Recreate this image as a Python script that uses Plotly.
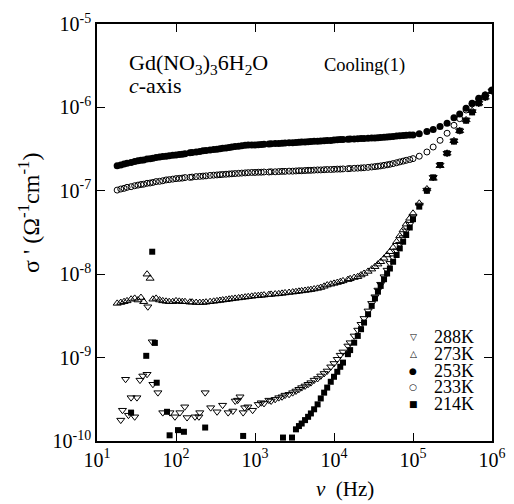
import plotly.graph_objects as go

# ---------------- data ----------------
freq = [18, 20, 22, 24, 27, 30, 33, 36, 39, 43, 47, 51, 56, 62, 68, 75, 82, 91,
        100, 110, 120, 130, 150, 160, 180, 200, 220, 240, 270, 300, 330, 360, 390, 430, 470, 510, 560, 620, 680, 750, 820, 910,
        1000, 1100, 1200, 1300, 1500, 1600, 1800, 2000, 2200, 2400, 2700, 3000, 3300, 3600, 3900, 4300, 4700, 5100, 5600, 6200, 6800, 7500, 8200, 9100,
        10000, 11000, 12000, 13000, 15000, 16000, 18000, 20000, 22000, 24000, 27000, 30000, 33000, 36000, 39000, 43000, 47000, 51000, 56000, 62000, 68000, 75000, 82000, 91000,
        100000, 120000, 150000, 180000, 220000, 270000, 330000, 390000, 470000, 560000, 680000, 820000, 1000000]

sigma_253 = [2.00e-7, 2.04e-7, 2.09e-7, 2.14e-7, 2.19e-7, 2.24e-7, 2.29e-7, 2.32e-7, 2.34e-7, 2.40e-7, 2.43e-7, 2.45e-7, 2.51e-7, 2.54e-7, 2.57e-7, 2.60e-7, 2.63e-7, 2.66e-7,
             2.69e-7, 2.72e-7, 2.75e-7, 2.79e-7, 2.85e-7, 2.88e-7, 2.92e-7, 2.95e-7, 3.02e-7, 3.05e-7, 3.09e-7, 3.13e-7, 3.16e-7, 3.20e-7, 3.24e-7, 3.27e-7, 3.31e-7, 3.35e-7, 3.39e-7, 3.43e-7, 3.47e-7, 3.51e-7, 3.53e-7, 3.55e-7,
             3.55e-7, 3.57e-7, 3.59e-7, 3.61e-7, 3.63e-7, 3.66e-7, 3.68e-7, 3.70e-7, 3.72e-7, 3.74e-7, 3.76e-7, 3.78e-7, 3.80e-7, 3.82e-7, 3.84e-7, 3.86e-7, 3.88e-7, 3.90e-7, 3.92e-7, 3.94e-7, 3.96e-7, 3.98e-7, 4.00e-7, 4.02e-7,
             4.07e-7, 4.09e-7, 4.11e-7, 4.13e-7, 4.15e-7, 4.17e-7, 4.19e-7, 4.21e-7, 4.23e-7, 4.25e-7, 4.27e-7, 4.29e-7, 4.31e-7, 4.33e-7, 4.36e-7, 4.39e-7, 4.42e-7, 4.45e-7, 4.49e-7, 4.53e-7, 4.57e-7, 4.61e-7, 4.64e-7, 4.66e-7,
             4.68e-7, 4.84e-7, 5.13e-7, 5.43e-7, 5.89e-7, 6.46e-7, 7.50e-7, 8.32e-7, 9.77e-7, 1.12e-6, 1.29e-6, 1.41e-6, 1.62e-6]

sigma_233 = [1.02e-7, 1.05e-7, 1.07e-7, 1.10e-7, 1.12e-7, 1.15e-7, 1.17e-7, 1.19e-7, 1.20e-7, 1.23e-7, 1.24e-7, 1.26e-7, 1.29e-7, 1.30e-7, 1.32e-7, 1.35e-7, 1.36e-7, 1.38e-7,
             1.40e-7, 1.41e-7, 1.42e-7, 1.44e-7, 1.45e-7, 1.46e-7, 1.48e-7, 1.49e-7, 1.50e-7, 1.51e-7, 1.53e-7, 1.54e-7, 1.55e-7, 1.56e-7, 1.57e-7, 1.58e-7, 1.59e-7, 1.60e-7, 1.61e-7, 1.62e-7, 1.63e-7, 1.64e-7, 1.65e-7, 1.66e-7,
             1.66e-7, 1.67e-7, 1.67e-7, 1.68e-7, 1.68e-7, 1.69e-7, 1.69e-7, 1.70e-7, 1.71e-7, 1.71e-7, 1.72e-7, 1.72e-7, 1.73e-7, 1.74e-7, 1.74e-7, 1.75e-7, 1.76e-7, 1.76e-7, 1.77e-7, 1.78e-7, 1.78e-7, 1.79e-7, 1.80e-7, 1.80e-7,
             1.81e-7, 1.82e-7, 1.82e-7, 1.83e-7, 1.84e-7, 1.85e-7, 1.86e-7, 1.87e-7, 1.88e-7, 1.89e-7, 1.91e-7, 1.93e-7, 1.95e-7, 1.97e-7, 1.99e-7, 2.02e-7, 2.05e-7, 2.08e-7, 2.12e-7, 2.17e-7, 2.22e-7, 2.27e-7, 2.32e-7, 2.37e-7,
             2.43e-7, 2.60e-7, 2.92e-7, 3.35e-7, 4.03e-7, 4.90e-7, 6.10e-7, 7.33e-7, 9.30e-7, 1.10e-6, 1.26e-6, 1.41e-6, 1.58e-6]

sigma_273 = [4.47e-9, 4.57e-9, 4.68e-9, 4.79e-9, 5.01e-9, 5.13e-9, 4.90e-9, 5.25e-9, 4.68e-9, 1.00e-8, 8.90e-9, 5.01e-9, 5.13e-9, 4.90e-9, 4.79e-9, 4.73e-9, 4.68e-9, 4.68e-9,
             4.79e-9, 4.73e-9, 4.68e-9, 4.68e-9, 4.62e-9, 4.62e-9, 4.57e-9, 4.57e-9, 4.57e-9, 4.62e-9, 4.68e-9, 4.73e-9, 4.79e-9, 4.84e-9, 4.90e-9, 4.95e-9, 5.01e-9, 5.07e-9, 5.13e-9, 5.19e-9, 5.25e-9, 5.31e-9, 5.37e-9, 5.43e-9,
             5.50e-9, 5.53e-9, 5.57e-9, 5.62e-9, 5.69e-9, 5.73e-9, 5.78e-9, 5.82e-9, 5.89e-9, 5.96e-9, 6.03e-9, 6.10e-9, 6.17e-9, 6.24e-9, 6.31e-9, 6.38e-9, 6.46e-9, 6.53e-9, 6.64e-9, 6.76e-9, 6.92e-9, 7.16e-9, 7.41e-9, 7.59e-9,
             7.76e-9, 7.94e-9, 8.13e-9, 8.32e-9, 8.61e-9, 8.81e-9, 9.12e-9, 9.33e-9, 9.77e-9, 1.02e-8, 1.08e-8, 1.15e-8, 1.23e-8, 1.32e-8, 1.41e-8, 1.55e-8, 1.70e-8, 1.86e-8, 2.09e-8, 2.45e-8, 2.88e-8, 3.39e-8, 3.98e-8, 4.68e-8,
             5.37e-8, 7.08e-8, 1.05e-7, 1.41e-7, 2.00e-7, 2.82e-7, 3.98e-7, 5.25e-7, 7.08e-7, 9.12e-7, 1.12e-6, 1.32e-6, 1.55e-6]

freq_288 = [20, 21, 23, 25, 27, 30, 32, 35, 38, 43, 44, 50, 51, 59, 68, 84, 97, 112, 129, 138, 174, 195, 200, 234, 275, 331, 389, 457, 525, 562, 603, 646, 708, 741, 813, 933,
            1100, 1200, 1300, 1500, 1600, 1800, 2000, 2200, 2400, 2700, 3000, 3300, 3600, 3900, 4300, 4700, 5100, 5600, 6200, 6800, 7500, 8200, 9100,
            10000, 11000, 12000, 13000, 15000, 16000, 18000, 20000, 22000, 24000, 27000, 30000, 33000, 36000, 39000, 43000, 47000, 51000, 56000, 62000, 68000, 75000, 82000, 91000,
            100000, 120000, 150000, 180000, 220000, 270000, 330000, 390000, 470000, 560000, 680000, 820000, 1000000]
sigma_288 = [1.78e-10, 2.34e-10, 5.50e-10, 2.04e-10, 3.31e-10, 1.95e-10, 3.31e-10, 5.37e-10, 6.03e-10, 6.31e-10, 4.07e-9, 1.55e-9, 4.79e-10, 3.80e-10, 2.19e-10, 2.19e-10, 1.95e-10, 2.19e-10, 2.57e-10, 1.91e-10, 1.95e-10, 1.95e-10, 2.19e-10, 3.80e-10, 2.51e-10, 2.24e-10, 2.69e-10, 2.19e-10, 2.29e-10, 3.02e-10, 3.09e-10, 3.39e-10, 2.19e-10, 2.51e-10, 2.57e-10, 2.34e-10,
             2.75e-10, 2.88e-10, 2.82e-10, 3.09e-10, 3.02e-10, 3.16e-10, 3.31e-10, 3.39e-10, 3.55e-10, 3.63e-10, 3.80e-10, 3.98e-10, 4.17e-10, 4.37e-10, 4.57e-10, 4.79e-10, 5.01e-10, 5.37e-10, 5.62e-10, 6.03e-10, 6.46e-10, 6.92e-10, 7.76e-10,
             8.51e-10, 9.55e-10, 1.07e-9, 1.17e-9, 1.38e-9, 1.51e-9, 1.82e-9, 2.14e-9, 2.51e-9, 2.95e-9, 3.63e-9, 4.47e-9, 5.37e-9, 6.46e-9, 7.59e-9, 9.33e-9, 1.12e-8, 1.35e-8, 1.58e-8, 1.91e-8, 2.29e-8, 2.75e-8, 3.31e-8, 3.98e-8,
             4.90e-8, 6.76e-8, 1.02e-7, 1.45e-7, 2.04e-7, 2.82e-7, 3.98e-7, 5.25e-7, 7.08e-7, 8.91e-7, 1.12e-6, 1.32e-6, 1.58e-6]

freq_214 = [27, 42, 50, 54, 57, 77, 83, 106, 126, 234, 708, 2260, 2940,
            3300, 3600, 3900, 4300, 4700, 5100, 5600, 6200, 6800, 7500, 8200, 9100,
            10000, 11000, 12000, 13000, 15000, 16000, 18000, 20000, 22000, 24000, 27000, 30000, 33000, 36000, 39000, 43000, 47000, 51000, 56000, 62000, 68000, 75000, 82000, 91000,
            100000, 120000, 150000, 180000, 220000, 270000, 330000, 390000, 470000, 560000, 680000, 820000, 1000000]
sigma_214 = [2.19e-10, 1.05e-9, 1.86e-8, 1.50e-9, 5.00e-10, 2.24e-10, 1.17e-10, 1.35e-10, 1.29e-10, 1.45e-10, 1.15e-10, 1.10e-10, 1.10e-10,
             1.38e-10, 1.51e-10, 1.62e-10, 1.78e-10, 1.95e-10, 2.14e-10, 2.40e-10, 2.75e-10, 3.24e-10, 3.80e-10, 4.37e-10, 5.13e-10,
             5.89e-10, 6.76e-10, 7.76e-10, 8.71e-10, 1.10e-9, 1.23e-9, 1.51e-9, 1.82e-9, 2.19e-9, 2.63e-9, 3.31e-9, 4.17e-9, 5.13e-9, 6.17e-9, 7.24e-9, 8.71e-9, 1.02e-8, 1.17e-8, 1.41e-8, 1.70e-8, 2.04e-8, 2.45e-8, 2.95e-8, 3.63e-8,
             4.57e-8, 6.46e-8, 1.00e-7, 1.45e-7, 2.04e-7, 2.82e-7, 3.89e-7, 5.25e-7, 6.92e-7, 8.71e-7, 1.12e-6, 1.32e-6, 1.58e-6]

temps = ["288K", "273K", "253K", "233K", "214K"]
legend_glyphs = ["\u25BD", "\u25B3", "\u25CF", "\u25CB", "\u25A0"]

x_tick_vals = [10, 100, 1000, 10000, 100000, 1000000]
x_tick_text = ["10<sup>1</sup>", "10<sup>2</sup>", "10<sup>3</sup>", "10<sup>4</sup>", "10<sup>5</sup>", "10<sup>6</sup>"]
y_tick_vals = [1e-10, 1e-9, 1e-8, 1e-7, 1e-6, 1e-5]
y_tick_text = ["10<sup>-10</sup>", "10<sup>-9</sup>", "10<sup>-8</sup>", "10<sup>-7</sup>", "10<sup>-6</sup>", "10<sup>-5</sup>"]

# ---------------- figure ----------------
SERIF = "Liberation Serif"
fig = go.Figure()

series = [
    (freq_288, sigma_288, temps[0], "triangle-down-open", 7),
    (freq, sigma_273, temps[1], "triangle-up-open", 7),
    (freq, sigma_233, temps[3], "circle-open", 6),
    (freq_214, sigma_214, temps[4], "square", 6),
    (freq, sigma_253, temps[2], "circle", 7),
]
for xs, ys, name, sym, sz in series:
    fig.add_trace(go.Scatter(
        x=xs, y=ys, mode="markers", name=name, showlegend=False,
        marker=dict(symbol=sym, size=sz, color="black",
                    line=dict(color="black", width=1 if "open" in sym else 0)),
    ))

axis_common = dict(
    type="log", ticks="inside", ticklen=8, tickwidth=1.2, tickcolor="black",
    showline=True, linecolor="black", linewidth=1.5, mirror="ticks",
    showgrid=False, zeroline=False, tickfont=dict(family=SERIF, size=20, color="black"),
)
fig.update_xaxes(range=[1, 6], tickvals=x_tick_vals, ticktext=x_tick_text, **axis_common)
fig.update_yaxes(range=[-10, -5], tickvals=y_tick_vals, ticktext=y_tick_text, **axis_common)

# the page adds an 8px body margin, so the figure is a little smaller
W, H = 506, 496
L, T, R, B = 89, 16, 22, 63
# plot area in page pixels: x 97..492, y 24..441
PX0, PX1, PY0, PY1 = 97, 492, 24, 441


def px(xp):
    return (xp - PX0) / (PX1 - PX0)


def py(yp):
    return (PY1 - yp) / (PY1 - PY0)


annotations = [
    dict(text="\u03c3 ' (\u03a9<sup>-1</sup>cm<sup>-1</sup>)", x=px(29), y=py(213), textangle=-90,
         font=dict(family=SERIF, size=24, color="black")),
    dict(text="<i>\u03bd</i>  (Hz)", x=px(345), y=py(489),
         font=dict(family=SERIF, size=21, color="black")),
    dict(text="Gd(NO<sub>3</sub>)<sub>3</sub>6H<sub>2</sub>O", x=px(127), y=py(64), xanchor="left",
         font=dict(family=SERIF, size=22, color="black")),
    dict(text="<i>c</i>-axis", x=px(127), y=py(85), xanchor="left",
         font=dict(family=SERIF, size=22, color="black")),
    dict(text="Cooling(1)", x=px(364), y=py(65),
         font=dict(family=SERIF, size=18.5, color="black")),
]
rows = [337, 354, 371, 387, 404]
for g, t, r in zip(legend_glyphs, temps, rows):
    annotations.append(dict(text=g, x=px(413), y=py(r), font=dict(family="DejaVu Sans", size=9, color="black")))
    annotations.append(dict(text=t, x=px(432), y=py(r), xanchor="left",
                            font=dict(family=SERIF, size=18, color="black")))

for a in annotations:
    a.setdefault("xref", "paper")
    a.setdefault("yref", "paper")
    a.setdefault("showarrow", False)
    a.setdefault("yanchor", "middle")
    a.setdefault("xanchor", "center")

fig.update_layout(
    width=W, height=H, margin=dict(l=L, r=R, t=T, b=B, autoexpand=False),
    paper_bgcolor="white", plot_bgcolor="white", showlegend=False,
    font=dict(family=SERIF, color="black"),
    annotations=annotations,
)

fig.write_html("out.html")
